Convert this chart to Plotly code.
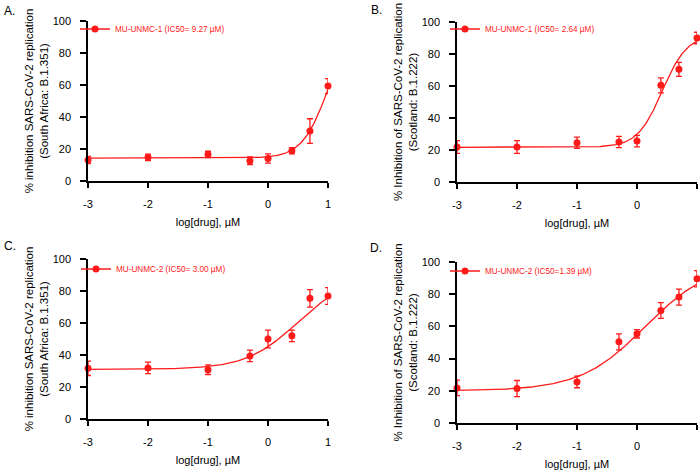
import numpy as np
import plotly.graph_objects as go

W, H = 700, 472

# ---------------- data ----------------
x_log = [-3, -2, -1, -0.301, 0, 0.398, 0.699, 1]

a_mean = [13.1, 14.8, 16.6, 12.7, 14.1, 18.9, 31.2, 59.3]
a_err = [2.3, 2.0, 2.0, 2.4, 2.9, 2.0, 7.7, 4.7]

b_mean = [21.9, 21.9, 24.6, 25.0, 25.6, 60.4, 70.4, 90.0]
b_err = [4.0, 4.0, 3.5, 3.5, 3.6, 4.7, 4.4, 3.6]

c_mean = [31.7, 31.9, 30.8, 39.4, 50.0, 52.0, 75.4, 76.9]
c_err = [4.5, 3.6, 3.0, 3.6, 5.6, 3.6, 5.5, 5.2]

d_mean = [21.8, 21.4, 25.5, 50.4, 55.4, 69.9, 78.2, 89.6]
d_err = [4.8, 5.0, 3.6, 5.0, 2.6, 4.9, 5.0, 5.0]

# 4-parameter logistic fit parameters (bottom, top, logIC50, hill)
a_fit = [14.3, 100.0, 1.0, 2.0]
b_fit = [21.7, 92.0, 0.42, 2.1]
c_fit = [31.0, 90.0, 0.5, 1.0]
d_fit = [20.0, 100.0, 0.143, 0.8]

names = ["MU-UNMC-1 (IC50= 9.27 \u00b5M)", "MU-UNMC-1 (IC50= 2.64 \u00b5M)",
         "MU-UNMC-2 (IC50= 3.00 \u00b5M)", "MU-UNMC-2 (IC50=1.39 \u00b5M)"]
panel_labels = ["A.", "B.", "C.", "D."]
y_titles = ["% inhibition SARS-CoV-2 replication<br>(South Africa: B.1.351)",
            "% Inhibition of SARS-CoV-2 replication<br>(Scotland: B.1.222)",
            "% inhibition SARS-CoV-2 replication<br>(South Africa: B.1.351)",
            "% Inhibition of SARS-CoV-2 replication<br>(Scotland: B.1.222)"]
x_title = "log[drug], \u00b5M"
x_ticks = [-3, -2, -1, 0, 1]
x_ticktext = ["-3", "-2", "-1", "0", "1"]
y_ticks = [0, 20, 40, 60, 80, 100]

# ---------------- layout (pixel boxes) ----------------
# (left, right, top, bottom) in pixels
boxes = [(88, 328, 21, 181), (457, 697, 22, 182),
         (88, 328, 259, 419), (457, 697, 262, 423)]
legend_pos = [(75, 29), (445, 29), (76, 269), (445, 271)]
label_pos = [(2, 11), (369, 10), (2, 246), (368, 248)]

RED = "#ff1a1a"
FONT = "Arial, Liberation Sans, sans-serif"

means = [a_mean, b_mean, c_mean, d_mean]
errs = [a_err, b_err, c_err, d_err]
fits = [a_fit, b_fit, c_fit, d_fit]

fig = go.Figure()
layout = dict(
    width=W, height=H,
    margin=dict(l=0, r=0, t=0, b=0),
    paper_bgcolor="white", plot_bgcolor="white",
    font=dict(family=FONT, size=11, color="black"),
    annotations=[],
)

xc = np.linspace(-3, 1, 300)
for i in range(4):
    sfx = "" if i == 0 else str(i + 1)
    xa, ya = "x" + sfx, "y" + sfx
    leg = "legend" + sfx
    bottom, top, logic, hill = fits[i]
    yc = bottom + (top - bottom) / (1 + 10 ** ((logic - xc) * hill))
    # fitted curve
    fig.add_trace(go.Scatter(x=xc, y=yc, mode="lines", line=dict(color=RED, width=1.3),
                             xaxis=xa, yaxis=ya, showlegend=False, hoverinfo="skip",
                             cliponaxis=False))
    # data points with error bars
    fig.add_trace(go.Scatter(x=x_log, y=means[i], mode="markers", name=names[i],
                             marker=dict(color=RED, size=7),
                             error_y=dict(type="data", array=errs[i], color=RED,
                                          thickness=1.3, width=3),
                             xaxis=xa, yaxis=ya, showlegend=False, cliponaxis=False))
    # legend entry (line + marker)
    fig.add_trace(go.Scatter(x=[None], y=[None], mode="lines+markers", name=names[i],
                             line=dict(color=RED, width=1.3),
                             marker=dict(color=RED, size=7),
                             xaxis=xa, yaxis=ya, legend=leg, showlegend=True))
    l, r, t, b = boxes[i]
    axis_common = dict(showline=True, linecolor="black", linewidth=1.5,
                       ticks="outside", tickwidth=1.5, tickcolor="black",
                       showgrid=False, zeroline=False, automargin=False,
                       tickfont=dict(size=11, family=FONT, color="black"))
    layout["xaxis" + sfx] = dict(domain=[l / W, r / W], anchor=ya, range=[-3, 1],
                                 tickvals=x_ticks, ticktext=x_ticktext,
                                 ticklen=5, ticklabelstandoff=7,
                                 title=dict(text=x_title, font=dict(size=11), standoff=9),
                                 **axis_common)
    layout["yaxis" + sfx] = dict(domain=[1 - b / H, 1 - t / H], anchor=xa, range=[0, 100],
                                 tickvals=y_ticks, ticklen=6, ticklabelstandoff=7,
                                 title=dict(text=y_titles[i], font=dict(size=11.5), standoff=2),
                                 **axis_common)
    lx, ly = legend_pos[i]
    layout[leg] = dict(x=lx / W, y=1 - ly / H, xanchor="left", yanchor="middle",
                       bgcolor="rgba(0,0,0,0)", borderwidth=0,
                       font=dict(size=8.2, color=RED, family=FONT),
                       itemwidth=30)
    px_, py_ = label_pos[i]
    layout["annotations"].append(dict(text=panel_labels[i], x=px_ / W, y=1 - py_ / H,
                                      xref="paper", yref="paper", xanchor="left",
                                      yanchor="middle", showarrow=False,
                                      font=dict(size=12, family=FONT, color="black")))

fig.update_layout(**layout)
fig.write_html("out.html", config={"displayModeBar": False},
               post_script="document.body.style.margin='0';document.body.style.padding='0';")
